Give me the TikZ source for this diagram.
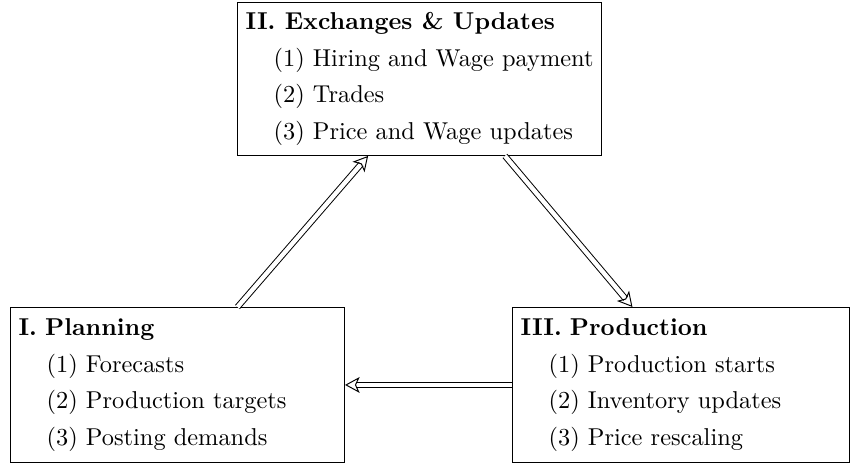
\documentclass[tikz,border=0pt]{standalone}
\usetikzlibrary{arrows.meta}

\begin{document}
\begin{tikzpicture}[
    x=0.41pt, y=-0.41pt,
    stage_box/.style={draw, anchor=north west, align=left, inner sep=3.33pt},
    flow_arrow/.style={double, double distance=1.8pt, -{Stealth[open, length=6pt, width=6.5pt, inset=1.5pt]}}
]
    \useasboundingbox (0,0) rectangle (854,466);
    \newcommand{\stageitem}{\hspace*{1.15em}}
    % Etapas
    \node[stage_box, minimum height=62.7pt] (exch) at (237,2)
        {\textbf{II. Exchanges \& Updates}\\[3pt]
         \stageitem(1) Hiring and Wage payment\\[3pt]
         \stageitem(2) Trades\\[3pt]
         \stageitem(3) Price and Wage updates};
    \node[stage_box, text width=130.3pt, minimum height=63.5pt] (plan) at (10,307)
        {\textbf{I. Planning}\\[3pt]
         \stageitem(1) Forecasts\\[3pt]
         \stageitem(2) Production targets\\[3pt]
         \stageitem(3) Posting demands};
    \node[stage_box, text width=131.5pt, minimum height=63.5pt] (prod) at (512,307)
        {\textbf{III. Production}\\[3pt]
         \stageitem(1) Production starts\\[3pt]
         \stageitem(2) Inventory updates\\[3pt]
         \stageitem(3) Price rescaling};
    % Setas do ciclo
    \draw[flow_arrow] ([xshift=24.6pt]plan.north) -- ([xshift=-21.1pt]exch.south);
    \draw[flow_arrow] ([xshift=35pt]exch.south) -- ([xshift=-19.9pt]prod.north);
    \draw[flow_arrow] (prod.west) -- (plan.east);
\end{tikzpicture}
\end{document}
